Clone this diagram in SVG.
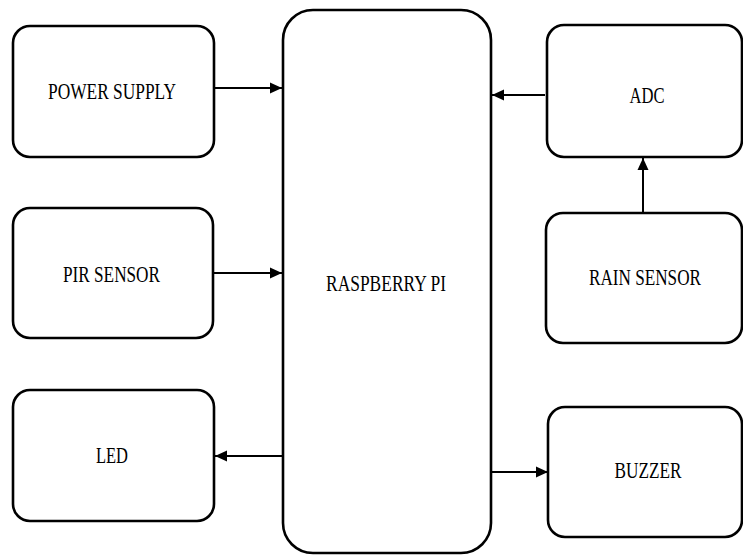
<svg xmlns="http://www.w3.org/2000/svg" width="743" height="555" viewBox="0 0 743 555">
<style>
.box{fill:#fff;stroke:#000;stroke-width:2.6}
.lbl{font-family:'Liberation Serif','DejaVu Serif',serif;font-size:23px;fill:#000;text-anchor:middle}
.con{stroke:#000;stroke-width:2;fill:none;marker-end:url(#ah)}
</style>
<defs>
<marker id="ah" markerUnits="userSpaceOnUse" markerWidth="12" markerHeight="12" viewBox="0 0 12 12" refX="12" refY="6" orient="auto">
<path d="M0,0.5 L12,6 L0,11.5 Z" fill="#000"/>
</marker>
</defs>
<rect width="743" height="555" fill="#fff"/>
<g id="power-supply"><rect class="box" x="13" y="26" width="201" height="131" rx="17"/><text class="lbl" font-family="Liberation Serif, serif" x="112" y="99" textLength="128" lengthAdjust="spacingAndGlyphs">POWER SUPPLY</text></g>
<g id="pir-sensor"><rect class="box" x="13" y="208" width="200" height="130" rx="17"/><text class="lbl" x="111.5" y="282" textLength="97" lengthAdjust="spacingAndGlyphs">PIR SENSOR</text></g>
<g id="led"><rect class="box" x="13" y="390" width="201" height="131" rx="17"/><text class="lbl" x="112" y="463" textLength="32" lengthAdjust="spacingAndGlyphs">LED</text></g>
<g id="raspberry-pi"><rect class="box" x="283" y="10" width="208" height="543" rx="30"/><text class="lbl" x="386" y="291" textLength="120" lengthAdjust="spacingAndGlyphs">RASPBERRY PI</text></g>
<g id="adc"><rect class="box" x="547" y="25" width="195" height="132" rx="17"/><text class="lbl" x="647" y="103" textLength="35" lengthAdjust="spacingAndGlyphs">ADC</text></g>
<g id="rain-sensor"><rect class="box" x="546" y="213" width="196" height="130" rx="17"/><text class="lbl" x="645" y="285" textLength="112" lengthAdjust="spacingAndGlyphs">RAIN SENSOR</text></g>
<g id="buzzer"><rect class="box" x="548" y="407" width="194" height="130" rx="17"/><text class="lbl" x="648" y="478" textLength="67" lengthAdjust="spacingAndGlyphs">BUZZER</text></g>
<g id="connectors">
<line class="con" x1="214" y1="88" x2="282" y2="88"/>
<line class="con" x1="213" y1="273" x2="282" y2="273"/>
<line class="con" x1="283" y1="456" x2="215" y2="456"/>
<line class="con" x1="545" y1="95" x2="492" y2="95"/>
<line class="con" x1="643" y1="212" x2="643" y2="158"/>
<line class="con" x1="491" y1="472" x2="548" y2="472"/>
</g>
</svg>
